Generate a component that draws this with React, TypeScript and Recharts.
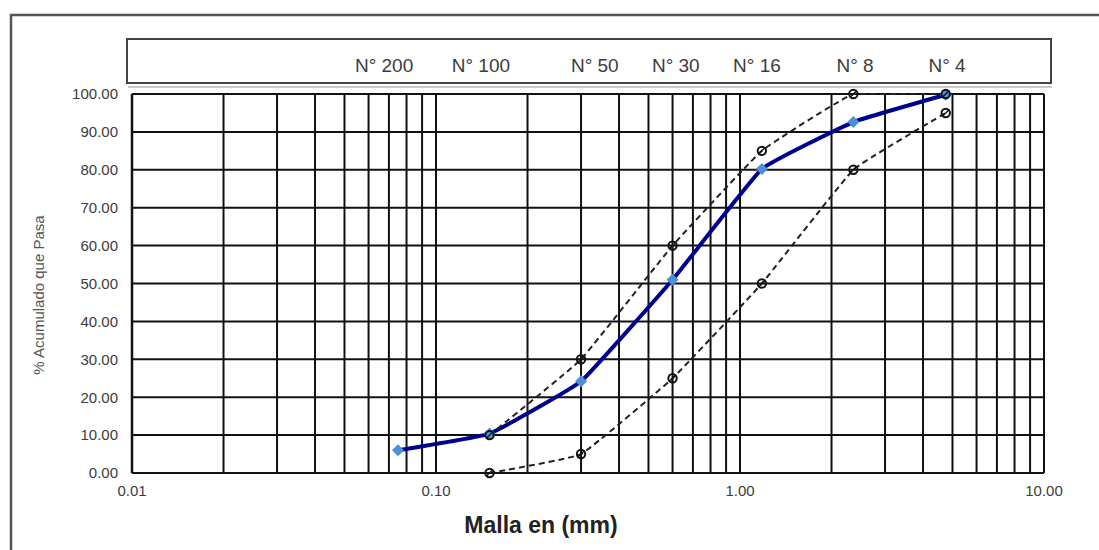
import React from 'react';
import { LineChart, Line, XAxis, YAxis, ReferenceLine } from 'recharts';

const sieveNames = ['N° 200', 'N° 100', 'N° 50', 'N° 30', 'N° 16', 'N° 8', 'N° 4'];
const sieveLabelPos = [0.0675, 0.1405, 0.333, 0.615, 1.137, 2.39, 4.8];
const sieveSizes = [0.075, 0.15, 0.3, 0.6, 1.18, 2.36, 4.75];
const passing = [6.0, 10.4, 24.2, 51.0, 80.2, 92.6, 99.8];
const limitSizes = [0.15, 0.3, 0.6, 1.18, 2.36, 4.75];
const upperLimit = [10, 30, 60, 85, 100, 100];
const lowerLimit = [0, 5, 25, 50, 80, 95];
const xTicks = [0.01, 0.1, 1, 10];
const yTicks = [0, 10, 20, 30, 40, 50, 60, 70, 80, 90, 100];
const xGrid = [
  0.01, 0.02, 0.03, 0.04, 0.05, 0.06, 0.07, 0.08, 0.09,
  0.1, 0.2, 0.3, 0.4, 0.5, 0.6, 0.7, 0.8, 0.9,
  1, 2, 3, 4, 5, 6, 7, 8, 9, 10,
];

const mainData = sieveSizes.map((x, i) => ({ x, y: passing[i] }));
const upperData = limitSizes.map((x, i) => ({ x, y: upperLimit[i] }));
const lowerData = limitSizes.map((x, i) => ({ x, y: lowerLimit[i] }));

const FONT = '"Liberation Sans", Arial, sans-serif';
const TXT = '#3c3c3c';

// gently smoothed line (low-tension Catmull-Rom), close to Excel's look
const softSmooth: any = (context: any) => {
  let pts: number[][] = [];
  const t = 0.05;
  return {
    areaStart() {},
    areaEnd() {},
    lineStart() {
      pts = [];
    },
    point(x: number, y: number) {
      pts.push([+x, +y]);
    },
    lineEnd() {
      const n = pts.length;
      if (n === 0) return;
      context.moveTo(pts[0][0], pts[0][1]);
      for (let i = 0; i < n - 1; i++) {
        const p0 = pts[Math.max(0, i - 1)];
        const p1 = pts[i];
        const p2 = pts[i + 1];
        const p3 = pts[Math.min(n - 1, i + 2)];
        let c1y = p1[1] + (p2[1] - p0[1]) * t;
        let c2y = p2[1] - (p3[1] - p1[1]) * t;
        const lo = Math.min(p1[1], p2[1]);
        const hi = Math.max(p1[1], p2[1]);
        c1y = Math.max(lo, Math.min(hi, c1y));
        c2y = Math.max(lo, Math.min(hi, c2y));
        const c1x = p1[0] + (p2[0] - p0[0]) * t;
        const c2x = p2[0] - (p3[0] - p1[0]) * t;
        context.bezierCurveTo(c1x, c1y, c2x, c2y, p2[0], p2[1]);
      }
    },
  };
};

const Diamond = (props: any) => {
  const { cx, cy } = props;
  if (cx == null || cy == null) return null;
  const s = 6;
  return (
    <polygon
      points={`${cx},${cy - s} ${cx + s},${cy} ${cx},${cy + s} ${cx - s},${cy}`}
      fill="#4f8fd6"
    />
  );
};

const Ring = (props: any) => {
  const { cx, cy } = props;
  if (cx == null || cy == null) return null;
  return (
    <g>
      <circle cx={cx} cy={cy} r={4.2} fill="none" stroke="#111" strokeWidth={2} />
      <line x1={cx - 3.5} y1={cy + 3.5} x2={cx + 3.5} y2={cy - 3.5} stroke="#111" strokeWidth={1.3} />
    </g>
  );
};

export default function App() {
  const W = 1099;
  const H = 550;
  return (
    <div style={{ position: 'absolute', left: 0, top: 0, width: W, height: H, overflow: 'hidden', background: '#fff' }}>
      <svg width={W} height={H} style={{ position: 'absolute', left: 0, top: 0 }}>
        <rect x={11} y={15} width={1200} height={700} fill="none" stroke="#555" strokeWidth={2.5} />
        <rect x={127} y={39} width={924} height={44} fill="#fff" stroke="#444" strokeWidth={2} />
        <line x1={128} y1={87} x2={1052} y2={87} stroke="#bbb" strokeWidth={1.5} />
        <text
          x={38}
          y={295}
          transform="rotate(-90 38 295)"
          textAnchor="middle"
          dominantBaseline="central"
          fontFamily={FONT}
          fontSize={15}
          fill="#555"
        >
          % Acumulado que Pasa
        </text>
        <text
          x={541}
          y={525}
          textAnchor="middle"
          dominantBaseline="central"
          fontFamily={FONT}
          fontSize={23}
          fontWeight="bold"
          fill="#222"
        >
          Malla en (mm)
        </text>
      </svg>
      <div style={{ position: 'absolute', left: 0, top: 0 }}>
        <LineChart
          width={W}
          height={H}
          margin={{ top: 54, right: 55, bottom: 47, left: 52 }}
        >
          <XAxis
            xAxisId="top"
            orientation="top"
            type="number"
            scale="log"
            dataKey="x"
            domain={[0.01, 10]}
            allowDataOverflow
            ticks={sieveLabelPos}
            tickFormatter={(v: number) => {
              const i = sieveLabelPos.indexOf(v);
              return i >= 0 ? sieveNames[i] : '';
            }}
            interval={0}
            height={40}
            axisLine={false}
            tickLine={false}
            tickSize={0}
            tickMargin={22}
            tick={{ fontFamily: FONT, fontSize: 19, fill: TXT }}
          />
          <XAxis
            xAxisId="bottom"
            type="number"
            scale="log"
            dataKey="x"
            domain={[0.01, 10]}
            allowDataOverflow
            ticks={xTicks}
            tickFormatter={(v: number) => v.toFixed(2)}
            interval={0}
            height={30}
            axisLine={{ stroke: '#111', strokeWidth: 2 }}
            tickLine={false}
            tickSize={0}
            tickMargin={12}
            tick={{ fontFamily: FONT, fontSize: 15, fill: TXT }}
          />
          <YAxis
            type="number"
            domain={[0, 100]}
            ticks={yTicks}
            interval={0}
            width={80}
            tickFormatter={(v: number) => v.toFixed(2)}
            axisLine={{ stroke: '#111', strokeWidth: 2.5 }}
            tickLine={false}
            tickSize={0}
            tickMargin={14}
            tick={{ fontFamily: FONT, fontSize: 15, fill: TXT }}
          />
          {xGrid.map((v) => (
            <ReferenceLine key={'gx' + v} xAxisId="bottom" x={v} stroke="#111" strokeWidth={2} />
          ))}
          {yTicks.map((v) => (
            <ReferenceLine key={'gy' + v} xAxisId="bottom" y={v} stroke="#111" strokeWidth={2} />
          ))}
          <Line
            xAxisId="bottom"
            data={mainData}
            dataKey="y"
            type={softSmooth}
            stroke="#00008f"
            strokeWidth={4}
            dot={<Diamond />}
            isAnimationActive={false}
          />
          <Line
            xAxisId="bottom"
            data={upperData}
            dataKey="y"
            type={softSmooth}
            stroke="#222"
            strokeWidth={2}
            strokeDasharray="6 4"
            dot={<Ring />}
            isAnimationActive={false}
          />
          <Line
            xAxisId="bottom"
            data={lowerData}
            dataKey="y"
            type={softSmooth}
            stroke="#222"
            strokeWidth={2}
            strokeDasharray="6 4"
            dot={<Ring />}
            isAnimationActive={false}
          />
        </LineChart>
      </div>
    </div>
  );
}
